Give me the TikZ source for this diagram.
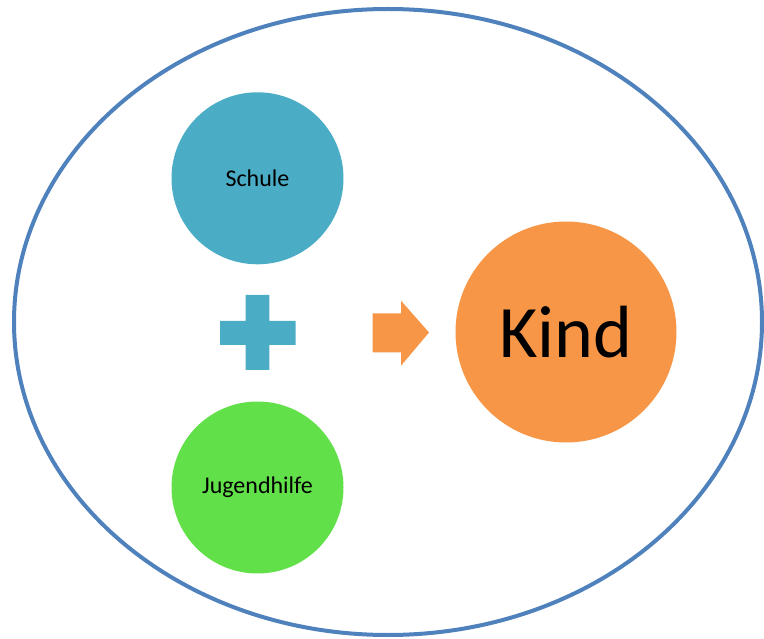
\documentclass[tikz,border=0pt]{standalone}
\usepackage{fontspec}
\setmainfont{Carlito}
\definecolor{ringblue}{HTML}{4F81BD}
\definecolor{teal}{HTML}{4BACC6}
\definecolor{orangeK}{HTML}{F79646}
\definecolor{greenJ}{HTML}{62E04A}
\begin{document}
\begin{tikzpicture}[x=1pt,y=-1pt,
  bubble/.style={circle,inner sep=0pt,draw=none},
  small/.style={font=\fontsize{24}{28}\selectfont}]
\useasboundingbox (0,0) rectangle (764,639);
\draw[ringblue,line width=4pt] (388,322) ellipse [x radius=374, y radius=313];
\node[bubble,fill=teal,minimum size=172pt,small] (schule) at (257.5,178.3) {Schule};
\node[bubble,fill=greenJ,minimum size=172pt,small] (jugend) at (257.5,487.5) {Jugendhilfe};
\node[bubble,fill=orangeK,minimum size=221pt,font=\fontsize{74}{80}\selectfont] (kind) at (566,332) {Kind};
% plus sign
\fill[teal] (245.7,295) -- (269.3,295) -- (269.3,321) -- (295.7,321) -- (295.7,345) -- (269.3,345) -- (269.3,370) -- (245.7,370) -- (245.7,345) -- (220,345) -- (220,321) -- (245.7,321) -- cycle;
% arrow
\fill[orangeK] (372.7,313.3) -- (401,313.3) -- (401,300.7) -- (429,332.5) -- (401,365.7) -- (401,352.3) -- (372.7,352.3) -- cycle;
\end{tikzpicture}
\end{document}
